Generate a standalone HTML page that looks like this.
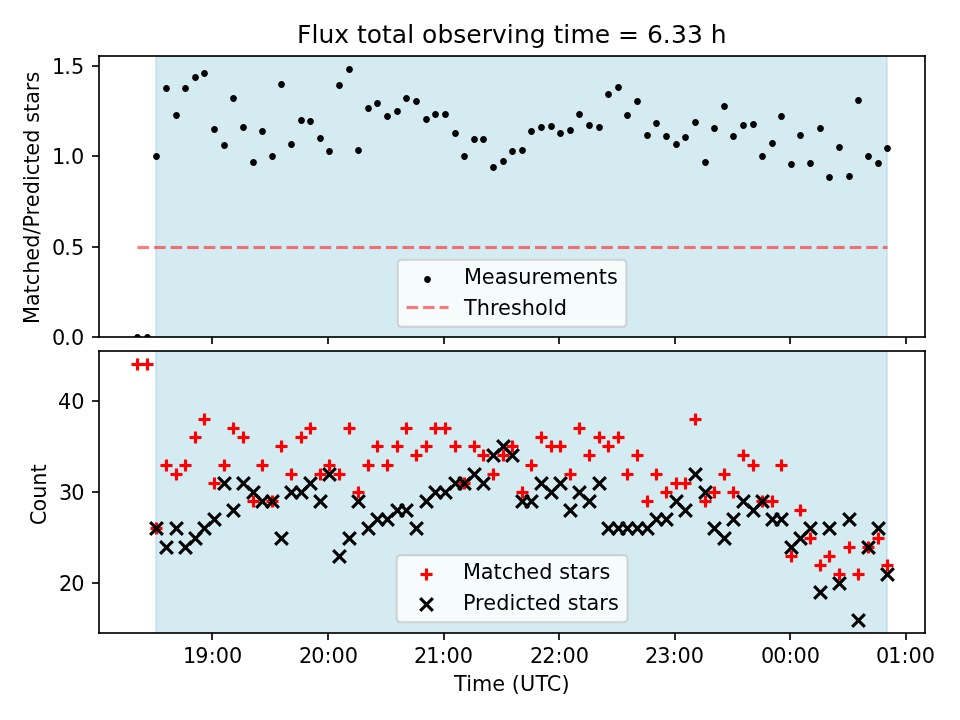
<!DOCTYPE html>
<html><head><meta charset="utf-8"><title>Flux total observing time</title>
<style>html,body{margin:0;padding:0;background:#fff;width:960px;height:720px;overflow:hidden}svg{display:block;will-change:transform}</style>
</head><body>
<svg  width="960" height="720" viewBox="0 0 460.8 345.6"  version="1.1">
<defs>
<style type="text/css">*{stroke-linejoin: round; stroke-linecap: butt}</style>
</defs>
<g id="figure_1">
<g id="patch_1">
<path d="M 0 345.6 L 460.8 345.6 L 460.8 0 L 0 0 z" style="fill: #ffffff"/>
</g>
<g id="axes_1">
<g id="patch_2">
<path d="M 47.52 161.76 L 444 161.76 L 444 26.88 L 47.52 26.88 z" style="fill: #ffffff"/>
</g>
<g id="patch_3">
<path d="M 74.88 161.76 L 425.76 161.76 L 425.76 26.88 L 74.88 26.88 z" clip-path="url(#pa523f5bf2b)" style="fill: #abd8e6; fill-opacity: 0.5; stroke-opacity: 0.5; stroke: #add8e6; stroke-linejoin: miter"/>
</g>
<g id="PathCollection_1">
<defs>
<path id="mfc0736e3bd" d="M 0 1.15158 C 0.3054 1.15158 0.59834 1.03024 0.81429 0.81429 C 1.03024 0.59834 1.15158 0.3054 1.15158 0 C 1.15158 -0.3054 1.03024 -0.59834 0.81429 -0.81429 C 0.59834 -1.03024 0.3054 -1.15158 0 -1.15158 C -0.3054 -1.15158 -0.59834 -1.03024 -0.81429 -0.81429 C -1.03024 -0.59834 -1.15158 -0.3054 -1.15158 0 C -1.15158 0.3054 -1.03024 0.59834 -0.81429 0.81429 C -0.59834 1.03024 -0.3054 1.15158 0 1.15158 z
" style="stroke: #000000"/>
</defs>
<g clip-path="url(#pa523f5bf2b)">
<use href="#mfc0736e3bd" x="66" y="162" style="stroke: #000000; stroke-width: 0.95"/>
<use href="#mfc0736e3bd" x="70.8" y="162" style="stroke: #000000; stroke-width: 0.95"/>
<use href="#mfc0736e3bd" x="75.12" y="75.12" style="stroke: #000000; stroke-width: 0.95"/>
<use href="#mfc0736e3bd" x="79.92" y="42.48" style="stroke: #000000; stroke-width: 0.95"/>
<use href="#mfc0736e3bd" x="84.72" y="55.44" style="stroke: #000000; stroke-width: 0.95"/>
<use href="#mfc0736e3bd" x="89.04" y="42.48" style="stroke: #000000; stroke-width: 0.95"/>
<use href="#mfc0736e3bd" x="93.84" y="37.2" style="stroke: #000000; stroke-width: 0.95"/>
<use href="#mfc0736e3bd" x="98.16" y="35.28" style="stroke: #000000; stroke-width: 0.95"/>
<use href="#mfc0736e3bd" x="102.96" y="62.16" style="stroke: #000000; stroke-width: 0.95"/>
<use href="#mfc0736e3bd" x="107.76" y="69.84" style="stroke: #000000; stroke-width: 0.95"/>
<use href="#mfc0736e3bd" x="112.08" y="47.28" style="stroke: #000000; stroke-width: 0.95"/>
<use href="#mfc0736e3bd" x="116.88" y="61.2" style="stroke: #000000; stroke-width: 0.95"/>
<use href="#mfc0736e3bd" x="121.68" y="78" style="stroke: #000000; stroke-width: 0.95"/>
<use href="#mfc0736e3bd" x="126" y="63.12" style="stroke: #000000; stroke-width: 0.95"/>
<use href="#mfc0736e3bd" x="130.8" y="75.12" style="stroke: #000000; stroke-width: 0.95"/>
<use href="#mfc0736e3bd" x="135.12" y="40.56" style="stroke: #000000; stroke-width: 0.95"/>
<use href="#mfc0736e3bd" x="139.92" y="69.36" style="stroke: #000000; stroke-width: 0.95"/>
<use href="#mfc0736e3bd" x="144.72" y="57.84" style="stroke: #000000; stroke-width: 0.95"/>
<use href="#mfc0736e3bd" x="149.04" y="58.32" style="stroke: #000000; stroke-width: 0.95"/>
<use href="#mfc0736e3bd" x="153.84" y="66.48" style="stroke: #000000; stroke-width: 0.95"/>
<use href="#mfc0736e3bd" x="158.16" y="72.72" style="stroke: #000000; stroke-width: 0.95"/>
<use href="#mfc0736e3bd" x="162.96" y="41.04" style="stroke: #000000; stroke-width: 0.95"/>
<use href="#mfc0736e3bd" x="167.76" y="33.36" style="stroke: #000000; stroke-width: 0.95"/>
<use href="#mfc0736e3bd" x="172.08" y="72.24" style="stroke: #000000; stroke-width: 0.95"/>
<use href="#mfc0736e3bd" x="176.88" y="52.08" style="stroke: #000000; stroke-width: 0.95"/>
<use href="#mfc0736e3bd" x="181.2" y="49.68" style="stroke: #000000; stroke-width: 0.95"/>
<use href="#mfc0736e3bd" x="186" y="55.92" style="stroke: #000000; stroke-width: 0.95"/>
<use href="#mfc0736e3bd" x="190.8" y="53.52" style="stroke: #000000; stroke-width: 0.95"/>
<use href="#mfc0736e3bd" x="195.12" y="47.28" style="stroke: #000000; stroke-width: 0.95"/>
<use href="#mfc0736e3bd" x="199.92" y="48.72" style="stroke: #000000; stroke-width: 0.95"/>
<use href="#mfc0736e3bd" x="204.72" y="57.36" style="stroke: #000000; stroke-width: 0.95"/>
<use href="#mfc0736e3bd" x="209.04" y="54.96" style="stroke: #000000; stroke-width: 0.95"/>
<use href="#mfc0736e3bd" x="213.84" y="54.96" style="stroke: #000000; stroke-width: 0.95"/>
<use href="#mfc0736e3bd" x="218.64" y="64.08" style="stroke: #000000; stroke-width: 0.95"/>
<use href="#mfc0736e3bd" x="222.96" y="75.12" style="stroke: #000000; stroke-width: 0.95"/>
<use href="#mfc0736e3bd" x="227.76" y="66.96" style="stroke: #000000; stroke-width: 0.95"/>
<use href="#mfc0736e3bd" x="232.08" y="66.96" style="stroke: #000000; stroke-width: 0.95"/>
<use href="#mfc0736e3bd" x="236.88" y="80.4" style="stroke: #000000; stroke-width: 0.95"/>
<use href="#mfc0736e3bd" x="241.68" y="77.52" style="stroke: #000000; stroke-width: 0.95"/>
<use href="#mfc0736e3bd" x="246" y="72.72" style="stroke: #000000; stroke-width: 0.95"/>
<use href="#mfc0736e3bd" x="250.8" y="72.24" style="stroke: #000000; stroke-width: 0.95"/>
<use href="#mfc0736e3bd" x="255.12" y="63.12" style="stroke: #000000; stroke-width: 0.95"/>
<use href="#mfc0736e3bd" x="259.92" y="61.2" style="stroke: #000000; stroke-width: 0.95"/>
<use href="#mfc0736e3bd" x="264.72" y="60.72" style="stroke: #000000; stroke-width: 0.95"/>
<use href="#mfc0736e3bd" x="269.04" y="64.08" style="stroke: #000000; stroke-width: 0.95"/>
<use href="#mfc0736e3bd" x="273.84" y="62.64" style="stroke: #000000; stroke-width: 0.95"/>
<use href="#mfc0736e3bd" x="278.16" y="54.96" style="stroke: #000000; stroke-width: 0.95"/>
<use href="#mfc0736e3bd" x="282.96" y="60.24" style="stroke: #000000; stroke-width: 0.95"/>
<use href="#mfc0736e3bd" x="287.76" y="61.2" style="stroke: #000000; stroke-width: 0.95"/>
<use href="#mfc0736e3bd" x="292.08" y="45.36" style="stroke: #000000; stroke-width: 0.95"/>
<use href="#mfc0736e3bd" x="296.88" y="42" style="stroke: #000000; stroke-width: 0.95"/>
<use href="#mfc0736e3bd" x="301.2" y="55.44" style="stroke: #000000; stroke-width: 0.95"/>
<use href="#mfc0736e3bd" x="306" y="48.72" style="stroke: #000000; stroke-width: 0.95"/>
<use href="#mfc0736e3bd" x="310.8" y="65.04" style="stroke: #000000; stroke-width: 0.95"/>
<use href="#mfc0736e3bd" x="315.12" y="59.28" style="stroke: #000000; stroke-width: 0.95"/>
<use href="#mfc0736e3bd" x="319.92" y="65.52" style="stroke: #000000; stroke-width: 0.95"/>
<use href="#mfc0736e3bd" x="324.72" y="69.36" style="stroke: #000000; stroke-width: 0.95"/>
<use href="#mfc0736e3bd" x="329.04" y="66" style="stroke: #000000; stroke-width: 0.95"/>
<use href="#mfc0736e3bd" x="333.84" y="58.8" style="stroke: #000000; stroke-width: 0.95"/>
<use href="#mfc0736e3bd" x="338.64" y="78" style="stroke: #000000; stroke-width: 0.95"/>
<use href="#mfc0736e3bd" x="342.96" y="61.68" style="stroke: #000000; stroke-width: 0.95"/>
<use href="#mfc0736e3bd" x="347.76" y="51.12" style="stroke: #000000; stroke-width: 0.95"/>
<use href="#mfc0736e3bd" x="352.08" y="65.52" style="stroke: #000000; stroke-width: 0.95"/>
<use href="#mfc0736e3bd" x="356.88" y="60.24" style="stroke: #000000; stroke-width: 0.95"/>
<use href="#mfc0736e3bd" x="361.68" y="59.76" style="stroke: #000000; stroke-width: 0.95"/>
<use href="#mfc0736e3bd" x="366" y="75.12" style="stroke: #000000; stroke-width: 0.95"/>
<use href="#mfc0736e3bd" x="370.8" y="68.88" style="stroke: #000000; stroke-width: 0.95"/>
<use href="#mfc0736e3bd" x="375.12" y="55.92" style="stroke: #000000; stroke-width: 0.95"/>
<use href="#mfc0736e3bd" x="379.92" y="78.96" style="stroke: #000000; stroke-width: 0.95"/>
<use href="#mfc0736e3bd" x="384.24" y="65.04" style="stroke: #000000; stroke-width: 0.95"/>
<use href="#mfc0736e3bd" x="389.04" y="78.48" style="stroke: #000000; stroke-width: 0.95"/>
<use href="#mfc0736e3bd" x="393.84" y="61.68" style="stroke: #000000; stroke-width: 0.95"/>
<use href="#mfc0736e3bd" x="398.16" y="85.2" style="stroke: #000000; stroke-width: 0.95"/>
<use href="#mfc0736e3bd" x="402.96" y="70.8" style="stroke: #000000; stroke-width: 0.95"/>
<use href="#mfc0736e3bd" x="407.76" y="84.72" style="stroke: #000000; stroke-width: 0.95"/>
<use href="#mfc0736e3bd" x="412.08" y="48.24" style="stroke: #000000; stroke-width: 0.95"/>
<use href="#mfc0736e3bd" x="416.88" y="75.12" style="stroke: #000000; stroke-width: 0.95"/>
<use href="#mfc0736e3bd" x="421.68" y="78.48" style="stroke: #000000; stroke-width: 0.95"/>
<use href="#mfc0736e3bd" x="426" y="71.28" style="stroke: #000000; stroke-width: 0.95"/>
</g>
</g>
<g id="matplotlib.axis_1">
<g id="xtick_1">
<g id="line2d_1">
<defs>
<path id="m10d7a5b3fd" d="M 0 0 L 0 3.36" style="stroke: #000000; stroke-width: 0.8"/>
</defs>
<g>
<use href="#m10d7a5b3fd" x="101.76" y="161.76" style="stroke: #000000; stroke-width: 0.8"/>
</g>
</g>
</g>
<g id="xtick_2">
<g id="line2d_2">
<g>
<use href="#m10d7a5b3fd" x="157.44" y="161.76" style="stroke: #000000; stroke-width: 0.8"/>
</g>
</g>
</g>
<g id="xtick_3">
<g id="line2d_3">
<g>
<use href="#m10d7a5b3fd" x="213.12" y="161.76" style="stroke: #000000; stroke-width: 0.8"/>
</g>
</g>
</g>
<g id="xtick_4">
<g id="line2d_4">
<g>
<use href="#m10d7a5b3fd" x="268.32" y="161.76" style="stroke: #000000; stroke-width: 0.8"/>
</g>
</g>
</g>
<g id="xtick_5">
<g id="line2d_5">
<g>
<use href="#m10d7a5b3fd" x="324" y="161.76" style="stroke: #000000; stroke-width: 0.8"/>
</g>
</g>
</g>
<g id="xtick_6">
<g id="line2d_6">
<g>
<use href="#m10d7a5b3fd" x="379.2" y="161.76" style="stroke: #000000; stroke-width: 0.8"/>
</g>
</g>
</g>
<g id="xtick_7">
<g id="line2d_7">
<g>
<use href="#m10d7a5b3fd" x="434.88" y="161.76" style="stroke: #000000; stroke-width: 0.8"/>
</g>
</g>
</g>
</g>
<g id="matplotlib.axis_2">
<g id="ytick_1">
<g id="line2d_8">
<defs>
<path id="m0516483914" d="M 0 0 L -3.36 0" style="stroke: #000000; stroke-width: 0.96; stroke-opacity: 0.8333"/>
</defs>
<g>
<use href="#m0516483914" x="47.52" y="161.76" style="stroke: #000000; stroke-width: 0.8"/>
</g>
</g>
<g id="text_1">
<text transform="translate(-0.12 -0.36)" style="font-size: 10px; font-family: 'DejaVu Sans', 'Liberation Sans', sans-serif; text-anchor: start" x="25.06 30.94 34.2325" y="165.724878">0.0</text>
</g>
</g>
<g id="ytick_2">
<g id="line2d_9">
<g>
<use href="#m0516483914" x="47.52" y="118.56" style="stroke: #000000; stroke-width: 0.8"/>
</g>
</g>
<g id="text_2">
<text transform="translate(0.12 -0.12)" style="font-size: 10px; font-family: 'DejaVu Sans', 'Liberation Sans', sans-serif; text-anchor: start" x="24.82 30.7 33.9925" y="122.287015">0.5</text>
</g>
</g>
<g id="ytick_3">
<g id="line2d_10">
<g>
<use href="#m0516483914" x="47.52" y="74.88" style="stroke: #000000; stroke-width: 0.8"/>
</g>
</g>
<g id="text_3">
<text transform="translate(-0.24 -0.36)" style="font-size: 10px; font-family: 'DejaVu Sans', 'Liberation Sans', sans-serif; text-anchor: start" x="25.18 31.06 34.3525" y="78.849152">1.0</text>
</g>
</g>
<g id="ytick_4">
<g id="line2d_11">
<g>
<use href="#m0516483914" x="47.52" y="31.68" style="stroke: #000000; stroke-width: 0.8"/>
</g>
</g>
<g id="text_4">
<text transform="translate(-0.24 -0.12)" style="font-size: 10px; font-family: 'DejaVu Sans', 'Liberation Sans', sans-serif; text-anchor: start" x="25.18 31.06 34.3525" y="35.411289">1.5</text>
</g>
</g>
<g id="text_5">
<text style="font-size: 10px; font-family: 'DejaVu Sans', 'Liberation Sans', sans-serif; text-anchor: start" x="-41.62875 -33.00375 -27.00375 -23.08125 -17.46375 -11.24625 -4.97625 1.36875 4.73625 10.47375 14.35875 20.62875 26.98125 29.75625 35.25375 39.16875 45.32625 51.67125 54.96375 60.17625 64.09875 70.09875 74.33626" y="94.382439" transform="translate(-0.36 0.18) translate(0 0.432) rotate(-90 18.9 94.382439)">Matched/Predicted stars</text>
</g>
</g>
<g id="line2d_12">
<path d="M 66 118.8 L 70.8 118.8 L 75.12 118.8 L 79.92 118.8 L 84.72 118.8 L 89.04 118.8 L 93.84 118.8 L 98.16 118.8 L 102.96 118.8 L 107.76 118.8 L 112.08 118.8 L 116.88 118.8 L 121.68 118.8 L 126 118.8 L 130.8 118.8 L 135.12 118.8 L 139.92 118.8 L 144.72 118.8 L 149.04 118.8 L 153.84 118.8 L 158.16 118.8 L 162.96 118.8 L 167.76 118.8 L 172.08 118.8 L 176.88 118.8 L 181.2 118.8 L 186 118.8 L 190.8 118.8 L 195.12 118.8 L 199.92 118.8 L 204.72 118.8 L 209.04 118.8 L 213.84 118.8 L 218.64 118.8 L 222.96 118.8 L 227.76 118.8 L 232.08 118.8 L 236.88 118.8 L 241.68 118.8 L 246 118.8 L 250.8 118.8 L 255.12 118.8 L 259.92 118.8 L 264.72 118.8 L 269.04 118.8 L 273.84 118.8 L 278.16 118.8 L 282.96 118.8 L 287.76 118.8 L 292.08 118.8 L 296.88 118.8 L 301.2 118.8 L 306 118.8 L 310.8 118.8 L 315.12 118.8 L 319.92 118.8 L 324.72 118.8 L 329.04 118.8 L 333.84 118.8 L 338.64 118.8 L 342.96 118.8 L 347.76 118.8 L 352.08 118.8 L 356.88 118.8 L 361.68 118.8 L 366 118.8 L 370.8 118.8 L 375.12 118.8 L 379.92 118.8 L 384.24 118.8 L 389.04 118.8 L 393.84 118.8 L 398.16 118.8 L 402.96 118.8 L 407.76 118.8 L 412.08 118.8 L 416.88 118.8 L 421.68 118.8 L 426 118.8" clip-path="url(#pa523f5bf2b)" style="fill: none; stroke-dasharray: 5.55,2.4; stroke-dashoffset: 0; stroke: #ff0000; stroke-opacity: 0.03125; stroke-width: 2.4"/><path d="M 66 118.8 L 70.8 118.8 L 75.12 118.8 L 79.92 118.8 L 84.72 118.8 L 89.04 118.8 L 93.84 118.8 L 98.16 118.8 L 102.96 118.8 L 107.76 118.8 L 112.08 118.8 L 116.88 118.8 L 121.68 118.8 L 126 118.8 L 130.8 118.8 L 135.12 118.8 L 139.92 118.8 L 144.72 118.8 L 149.04 118.8 L 153.84 118.8 L 158.16 118.8 L 162.96 118.8 L 167.76 118.8 L 172.08 118.8 L 176.88 118.8 L 181.2 118.8 L 186 118.8 L 190.8 118.8 L 195.12 118.8 L 199.92 118.8 L 204.72 118.8 L 209.04 118.8 L 213.84 118.8 L 218.64 118.8 L 222.96 118.8 L 227.76 118.8 L 232.08 118.8 L 236.88 118.8 L 241.68 118.8 L 246 118.8 L 250.8 118.8 L 255.12 118.8 L 259.92 118.8 L 264.72 118.8 L 269.04 118.8 L 273.84 118.8 L 278.16 118.8 L 282.96 118.8 L 287.76 118.8 L 292.08 118.8 L 296.88 118.8 L 301.2 118.8 L 306 118.8 L 310.8 118.8 L 315.12 118.8 L 319.92 118.8 L 324.72 118.8 L 329.04 118.8 L 333.84 118.8 L 338.64 118.8 L 342.96 118.8 L 347.76 118.8 L 352.08 118.8 L 356.88 118.8 L 361.68 118.8 L 366 118.8 L 370.8 118.8 L 375.12 118.8 L 379.92 118.8 L 384.24 118.8 L 389.04 118.8 L 393.84 118.8 L 398.16 118.8 L 402.96 118.8 L 407.76 118.8 L 412.08 118.8 L 416.88 118.8 L 421.68 118.8 L 426 118.8" clip-path="url(#pa523f5bf2b)" style="fill: none; stroke-dasharray: 5.55,2.4; stroke-dashoffset: 0; stroke: #ff0000; stroke-opacity: 0.5; stroke-width: 1.44"/>
</g>
<g id="patch_4">
<path d="M 47.52 161.76 L 47.52 26.88" style="fill: none; stroke: #000000; stroke-width: 0.8; stroke-linejoin: miter; stroke-linecap: square"/>
</g>
<g id="patch_5">
<path d="M 444 161.76 L 444 26.88" style="fill: none; stroke: #000000; stroke-width: 0.8; stroke-linejoin: miter; stroke-linecap: square"/>
</g>
<g id="patch_6">
<path d="M 47.52 161.76 L 444 161.76" style="fill: none; stroke: #000000; stroke-width: 0.96; stroke-opacity: 0.8333; stroke-linejoin: miter; stroke-linecap: square"/>
</g>
<g id="patch_7">
<path d="M 47.52 26.88 L 444 26.88" style="fill: none; stroke: #000000; stroke-width: 0.96; stroke-opacity: 0.8333; stroke-linejoin: miter; stroke-linecap: square"/>
</g>
<g id="text_6">
<text transform="translate(-0.18 -0.42)" style="font-size: 12px; font-family: 'DejaVu Sans', 'Liberation Sans', sans-serif; text-anchor: start" x="142.72229 149.74228 153.07228 160.67728 167.77979 171.59727 176.17979 183.52229 188.22479 195.70229 199.03229 202.72978 210.19229 217.69229 223.93978 231.44728 236.37479 243.47728 246.93479 254.41978 262.03229 265.84979 270.55228 274.0098 285.70228 292.96228 296.77979 306.82977 310.76728 318.28229 322.21229 329.96729 337.36227 341.29978" y="20.88">Flux total observing time = 6.33 h</text>
</g>
<g id="legend_1">
<g id="patch_8">
<path d="M 192.917291 156.884878 L 298.717291 156.884878 Q 300.717291 156.884878 300.717291 154.884878 L 300.717291 126.684878 Q 300.717291 124.684878 298.717291 124.684878 L 192.917291 124.684878 Q 190.917291 124.684878 190.917291 126.684878 L 190.917291 154.884878 Q 190.917291 156.884878 192.917291 156.884878 z
" style="fill: #ffffff; opacity: 0.8; stroke: #cccccc; stroke-linejoin: miter"/>
</g>
<g id="PathCollection_2">
<g>
<use href="#mfc0736e3bd" x="205.2" y="134.16" style="stroke: #000000; stroke-width: 0.95"/>
</g>
</g>
<g id="text_7">
<text transform="translate(-0.24 -0.24)" style="font-size: 10px; font-family: 'DejaVu Sans', 'Liberation Sans', sans-serif; text-anchor: start" x="222.9173 231.4223 237.69229 243.81979 249.0248 255.36229 259.25479 265.40479 275.1398 281.28979 287.62729 291.5498" y="136.364878">Measurements</text>
</g>
<g id="line2d_13">
<path d="M 195.12 147.6 L 205.2 147.6 L 215.28 147.6" style="fill: none; stroke-dasharray: 5.55,2.4; stroke-dashoffset: 0; stroke: #ff0000; stroke-opacity: 0.03125; stroke-width: 2.4"/><path d="M 195.12 147.6 L 205.2 147.6 L 215.28 147.6" style="fill: none; stroke-dasharray: 5.55,2.4; stroke-dashoffset: 0; stroke: #ff0000; stroke-opacity: 0.5; stroke-width: 1.44"/>
</g>
<g id="text_8">
<text transform="translate(-0.18 0)" style="font-size: 10px; font-family: 'DejaVu Sans', 'Liberation Sans', sans-serif; text-anchor: start" x="222.9173 229.02229 235.35979 239.2448 245.51479 250.6073 256.94479 263.05728 265.95978" y="150.964878">Threshold</text>
</g>
</g>
</g>
<g id="axes_2">
<g id="patch_9">
<path d="M 47.52 303.84 L 444 303.84 L 444 168.48 L 47.52 168.48 z" style="fill: #ffffff"/>
</g>
<g id="patch_10">
<path d="M 74.88 303.84 L 425.76 303.84 L 425.76 168.48 L 74.88 168.48 z" clip-path="url(#pa68977ea98)" style="fill: #abd8e6; fill-opacity: 0.5; stroke-opacity: 0.5; stroke: #add8e6; stroke-linejoin: miter"/>
</g>
<g id="PathCollection_3">
<defs>
<g id="mf34b5040e0" style="stroke: #ff0000; stroke-width: 1.5"><path class="mk" d="M -2.88 0 L 2.88 0" style="stroke-width: 2.4; stroke-opacity: 0.0625"/><path class="mk" d="M -2.88 0 L 2.88 0" style="stroke-width: 1.44"/><path class="mk" d="M 0 2.88 L 0 -2.88"/></g>
</defs>
<g clip-path="url(#pa68977ea98)">
<use href="#mf34b5040e0" x="66" y="174.96" style="fill: #ff0000; stroke: #ff0000; stroke-width: 1.5"/>
<use href="#mf34b5040e0" x="70.8" y="174.96" style="fill: #ff0000; stroke: #ff0000; stroke-width: 1.5"/>
<use href="#mf34b5040e0" x="75.12" y="253.68" style="fill: #ff0000; stroke: #ff0000; stroke-width: 1.5"/>
<use href="#mf34b5040e0" x="79.92" y="223.44" style="fill: #ff0000; stroke: #ff0000; stroke-width: 1.5"/>
<use href="#mf34b5040e0" x="84.72" y="227.76" style="fill: #ff0000; stroke: #ff0000; stroke-width: 1.5"/>
<use href="#mf34b5040e0" x="89.04" y="223.44" style="fill: #ff0000; stroke: #ff0000; stroke-width: 1.5"/>
<use href="#mf34b5040e0" x="93.84" y="210" style="fill: #ff0000; stroke: #ff0000; stroke-width: 1.5"/>
<use href="#mf34b5040e0" x="98.16" y="201.36" style="fill: #ff0000; stroke: #ff0000; stroke-width: 1.5"/>
<use href="#mf34b5040e0" x="102.96" y="232.08" style="fill: #ff0000; stroke: #ff0000; stroke-width: 1.5"/>
<use href="#mf34b5040e0" x="107.76" y="223.44" style="fill: #ff0000; stroke: #ff0000; stroke-width: 1.5"/>
<use href="#mf34b5040e0" x="112.08" y="205.68" style="fill: #ff0000; stroke: #ff0000; stroke-width: 1.5"/>
<use href="#mf34b5040e0" x="116.88" y="210" style="fill: #ff0000; stroke: #ff0000; stroke-width: 1.5"/>
<use href="#mf34b5040e0" x="121.68" y="240.72" style="fill: #ff0000; stroke: #ff0000; stroke-width: 1.5"/>
<use href="#mf34b5040e0" x="126" y="223.44" style="fill: #ff0000; stroke: #ff0000; stroke-width: 1.5"/>
<use href="#mf34b5040e0" x="130.8" y="240.72" style="fill: #ff0000; stroke: #ff0000; stroke-width: 1.5"/>
<use href="#mf34b5040e0" x="135.12" y="214.32" style="fill: #ff0000; stroke: #ff0000; stroke-width: 1.5"/>
<use href="#mf34b5040e0" x="139.92" y="227.76" style="fill: #ff0000; stroke: #ff0000; stroke-width: 1.5"/>
<use href="#mf34b5040e0" x="144.72" y="210" style="fill: #ff0000; stroke: #ff0000; stroke-width: 1.5"/>
<use href="#mf34b5040e0" x="149.04" y="205.68" style="fill: #ff0000; stroke: #ff0000; stroke-width: 1.5"/>
<use href="#mf34b5040e0" x="153.84" y="227.76" style="fill: #ff0000; stroke: #ff0000; stroke-width: 1.5"/>
<use href="#mf34b5040e0" x="158.16" y="223.44" style="fill: #ff0000; stroke: #ff0000; stroke-width: 1.5"/>
<use href="#mf34b5040e0" x="162.96" y="227.76" style="fill: #ff0000; stroke: #ff0000; stroke-width: 1.5"/>
<use href="#mf34b5040e0" x="167.76" y="205.68" style="fill: #ff0000; stroke: #ff0000; stroke-width: 1.5"/>
<use href="#mf34b5040e0" x="172.08" y="236.4" style="fill: #ff0000; stroke: #ff0000; stroke-width: 1.5"/>
<use href="#mf34b5040e0" x="176.88" y="223.44" style="fill: #ff0000; stroke: #ff0000; stroke-width: 1.5"/>
<use href="#mf34b5040e0" x="181.2" y="214.32" style="fill: #ff0000; stroke: #ff0000; stroke-width: 1.5"/>
<use href="#mf34b5040e0" x="186" y="223.44" style="fill: #ff0000; stroke: #ff0000; stroke-width: 1.5"/>
<use href="#mf34b5040e0" x="190.8" y="214.32" style="fill: #ff0000; stroke: #ff0000; stroke-width: 1.5"/>
<use href="#mf34b5040e0" x="195.12" y="205.68" style="fill: #ff0000; stroke: #ff0000; stroke-width: 1.5"/>
<use href="#mf34b5040e0" x="199.92" y="218.64" style="fill: #ff0000; stroke: #ff0000; stroke-width: 1.5"/>
<use href="#mf34b5040e0" x="204.72" y="214.32" style="fill: #ff0000; stroke: #ff0000; stroke-width: 1.5"/>
<use href="#mf34b5040e0" x="209.04" y="205.68" style="fill: #ff0000; stroke: #ff0000; stroke-width: 1.5"/>
<use href="#mf34b5040e0" x="213.84" y="205.68" style="fill: #ff0000; stroke: #ff0000; stroke-width: 1.5"/>
<use href="#mf34b5040e0" x="218.64" y="214.32" style="fill: #ff0000; stroke: #ff0000; stroke-width: 1.5"/>
<use href="#mf34b5040e0" x="222.96" y="232.08" style="fill: #ff0000; stroke: #ff0000; stroke-width: 1.5"/>
<use href="#mf34b5040e0" x="227.76" y="214.32" style="fill: #ff0000; stroke: #ff0000; stroke-width: 1.5"/>
<use href="#mf34b5040e0" x="232.08" y="218.64" style="fill: #ff0000; stroke: #ff0000; stroke-width: 1.5"/>
<use href="#mf34b5040e0" x="236.88" y="227.76" style="fill: #ff0000; stroke: #ff0000; stroke-width: 1.5"/>
<use href="#mf34b5040e0" x="241.68" y="218.64" style="fill: #ff0000; stroke: #ff0000; stroke-width: 1.5"/>
<use href="#mf34b5040e0" x="246" y="214.32" style="fill: #ff0000; stroke: #ff0000; stroke-width: 1.5"/>
<use href="#mf34b5040e0" x="250.8" y="236.4" style="fill: #ff0000; stroke: #ff0000; stroke-width: 1.5"/>
<use href="#mf34b5040e0" x="255.12" y="223.44" style="fill: #ff0000; stroke: #ff0000; stroke-width: 1.5"/>
<use href="#mf34b5040e0" x="259.92" y="210" style="fill: #ff0000; stroke: #ff0000; stroke-width: 1.5"/>
<use href="#mf34b5040e0" x="264.72" y="214.32" style="fill: #ff0000; stroke: #ff0000; stroke-width: 1.5"/>
<use href="#mf34b5040e0" x="269.04" y="214.32" style="fill: #ff0000; stroke: #ff0000; stroke-width: 1.5"/>
<use href="#mf34b5040e0" x="273.84" y="227.76" style="fill: #ff0000; stroke: #ff0000; stroke-width: 1.5"/>
<use href="#mf34b5040e0" x="278.16" y="205.68" style="fill: #ff0000; stroke: #ff0000; stroke-width: 1.5"/>
<use href="#mf34b5040e0" x="282.96" y="218.64" style="fill: #ff0000; stroke: #ff0000; stroke-width: 1.5"/>
<use href="#mf34b5040e0" x="287.76" y="210" style="fill: #ff0000; stroke: #ff0000; stroke-width: 1.5"/>
<use href="#mf34b5040e0" x="292.08" y="214.32" style="fill: #ff0000; stroke: #ff0000; stroke-width: 1.5"/>
<use href="#mf34b5040e0" x="296.88" y="210" style="fill: #ff0000; stroke: #ff0000; stroke-width: 1.5"/>
<use href="#mf34b5040e0" x="301.2" y="227.76" style="fill: #ff0000; stroke: #ff0000; stroke-width: 1.5"/>
<use href="#mf34b5040e0" x="306" y="218.64" style="fill: #ff0000; stroke: #ff0000; stroke-width: 1.5"/>
<use href="#mf34b5040e0" x="310.8" y="240.72" style="fill: #ff0000; stroke: #ff0000; stroke-width: 1.5"/>
<use href="#mf34b5040e0" x="315.12" y="227.76" style="fill: #ff0000; stroke: #ff0000; stroke-width: 1.5"/>
<use href="#mf34b5040e0" x="319.92" y="236.4" style="fill: #ff0000; stroke: #ff0000; stroke-width: 1.5"/>
<use href="#mf34b5040e0" x="324.72" y="232.08" style="fill: #ff0000; stroke: #ff0000; stroke-width: 1.5"/>
<use href="#mf34b5040e0" x="329.04" y="232.08" style="fill: #ff0000; stroke: #ff0000; stroke-width: 1.5"/>
<use href="#mf34b5040e0" x="333.84" y="201.36" style="fill: #ff0000; stroke: #ff0000; stroke-width: 1.5"/>
<use href="#mf34b5040e0" x="338.64" y="240.72" style="fill: #ff0000; stroke: #ff0000; stroke-width: 1.5"/>
<use href="#mf34b5040e0" x="342.96" y="236.4" style="fill: #ff0000; stroke: #ff0000; stroke-width: 1.5"/>
<use href="#mf34b5040e0" x="347.76" y="227.76" style="fill: #ff0000; stroke: #ff0000; stroke-width: 1.5"/>
<use href="#mf34b5040e0" x="352.08" y="236.4" style="fill: #ff0000; stroke: #ff0000; stroke-width: 1.5"/>
<use href="#mf34b5040e0" x="356.88" y="218.64" style="fill: #ff0000; stroke: #ff0000; stroke-width: 1.5"/>
<use href="#mf34b5040e0" x="361.68" y="223.44" style="fill: #ff0000; stroke: #ff0000; stroke-width: 1.5"/>
<use href="#mf34b5040e0" x="366" y="240.72" style="fill: #ff0000; stroke: #ff0000; stroke-width: 1.5"/>
<use href="#mf34b5040e0" x="370.8" y="240.72" style="fill: #ff0000; stroke: #ff0000; stroke-width: 1.5"/>
<use href="#mf34b5040e0" x="375.12" y="223.44" style="fill: #ff0000; stroke: #ff0000; stroke-width: 1.5"/>
<use href="#mf34b5040e0" x="379.92" y="267.12" style="fill: #ff0000; stroke: #ff0000; stroke-width: 1.5"/>
<use href="#mf34b5040e0" x="384.24" y="245.04" style="fill: #ff0000; stroke: #ff0000; stroke-width: 1.5"/>
<use href="#mf34b5040e0" x="389.04" y="258.48" style="fill: #ff0000; stroke: #ff0000; stroke-width: 1.5"/>
<use href="#mf34b5040e0" x="393.84" y="271.44" style="fill: #ff0000; stroke: #ff0000; stroke-width: 1.5"/>
<use href="#mf34b5040e0" x="398.16" y="267.12" style="fill: #ff0000; stroke: #ff0000; stroke-width: 1.5"/>
<use href="#mf34b5040e0" x="402.96" y="275.76" style="fill: #ff0000; stroke: #ff0000; stroke-width: 1.5"/>
<use href="#mf34b5040e0" x="407.76" y="262.8" style="fill: #ff0000; stroke: #ff0000; stroke-width: 1.5"/>
<use href="#mf34b5040e0" x="412.08" y="275.76" style="fill: #ff0000; stroke: #ff0000; stroke-width: 1.5"/>
<use href="#mf34b5040e0" x="416.88" y="262.8" style="fill: #ff0000; stroke: #ff0000; stroke-width: 1.5"/>
<use href="#mf34b5040e0" x="421.68" y="258.48" style="fill: #ff0000; stroke: #ff0000; stroke-width: 1.5"/>
<use href="#mf34b5040e0" x="426" y="271.44" style="fill: #ff0000; stroke: #ff0000; stroke-width: 1.5"/>
</g>
</g>
<g id="PathCollection_4">
<defs>
<g id="m04df7a400f" style="stroke: #000000; stroke-width: 1.5"><path class="mk" d="M -3.04 3.04 L 3.04 -3.04"/><path class="mk" d="M -3.04 -3.04 L 3.04 3.04"/></g>
</defs>
<g clip-path="url(#pa68977ea98)">
<use href="#m04df7a400f" x="75.12" y="253.68" style="stroke: #000000; stroke-width: 1.5"/>
<use href="#m04df7a400f" x="79.92" y="262.8" style="stroke: #000000; stroke-width: 1.5"/>
<use href="#m04df7a400f" x="84.72" y="253.68" style="stroke: #000000; stroke-width: 1.5"/>
<use href="#m04df7a400f" x="89.04" y="262.8" style="stroke: #000000; stroke-width: 1.5"/>
<use href="#m04df7a400f" x="93.84" y="258.48" style="stroke: #000000; stroke-width: 1.5"/>
<use href="#m04df7a400f" x="98.16" y="253.68" style="stroke: #000000; stroke-width: 1.5"/>
<use href="#m04df7a400f" x="102.96" y="249.36" style="stroke: #000000; stroke-width: 1.5"/>
<use href="#m04df7a400f" x="107.76" y="232.08" style="stroke: #000000; stroke-width: 1.5"/>
<use href="#m04df7a400f" x="112.08" y="245.04" style="stroke: #000000; stroke-width: 1.5"/>
<use href="#m04df7a400f" x="116.88" y="232.08" style="stroke: #000000; stroke-width: 1.5"/>
<use href="#m04df7a400f" x="121.68" y="236.4" style="stroke: #000000; stroke-width: 1.5"/>
<use href="#m04df7a400f" x="126" y="240.72" style="stroke: #000000; stroke-width: 1.5"/>
<use href="#m04df7a400f" x="130.8" y="240.72" style="stroke: #000000; stroke-width: 1.5"/>
<use href="#m04df7a400f" x="135.12" y="258.48" style="stroke: #000000; stroke-width: 1.5"/>
<use href="#m04df7a400f" x="139.92" y="236.4" style="stroke: #000000; stroke-width: 1.5"/>
<use href="#m04df7a400f" x="144.72" y="236.4" style="stroke: #000000; stroke-width: 1.5"/>
<use href="#m04df7a400f" x="149.04" y="232.08" style="stroke: #000000; stroke-width: 1.5"/>
<use href="#m04df7a400f" x="153.84" y="240.72" style="stroke: #000000; stroke-width: 1.5"/>
<use href="#m04df7a400f" x="158.16" y="227.76" style="stroke: #000000; stroke-width: 1.5"/>
<use href="#m04df7a400f" x="162.96" y="267.12" style="stroke: #000000; stroke-width: 1.5"/>
<use href="#m04df7a400f" x="167.76" y="258.48" style="stroke: #000000; stroke-width: 1.5"/>
<use href="#m04df7a400f" x="172.08" y="240.72" style="stroke: #000000; stroke-width: 1.5"/>
<use href="#m04df7a400f" x="176.88" y="253.68" style="stroke: #000000; stroke-width: 1.5"/>
<use href="#m04df7a400f" x="181.2" y="249.36" style="stroke: #000000; stroke-width: 1.5"/>
<use href="#m04df7a400f" x="186" y="249.36" style="stroke: #000000; stroke-width: 1.5"/>
<use href="#m04df7a400f" x="190.8" y="245.04" style="stroke: #000000; stroke-width: 1.5"/>
<use href="#m04df7a400f" x="195.12" y="245.04" style="stroke: #000000; stroke-width: 1.5"/>
<use href="#m04df7a400f" x="199.92" y="253.68" style="stroke: #000000; stroke-width: 1.5"/>
<use href="#m04df7a400f" x="204.72" y="240.72" style="stroke: #000000; stroke-width: 1.5"/>
<use href="#m04df7a400f" x="209.04" y="236.4" style="stroke: #000000; stroke-width: 1.5"/>
<use href="#m04df7a400f" x="213.84" y="236.4" style="stroke: #000000; stroke-width: 1.5"/>
<use href="#m04df7a400f" x="218.64" y="232.08" style="stroke: #000000; stroke-width: 1.5"/>
<use href="#m04df7a400f" x="222.96" y="232.08" style="stroke: #000000; stroke-width: 1.5"/>
<use href="#m04df7a400f" x="227.76" y="227.76" style="stroke: #000000; stroke-width: 1.5"/>
<use href="#m04df7a400f" x="232.08" y="232.08" style="stroke: #000000; stroke-width: 1.5"/>
<use href="#m04df7a400f" x="236.88" y="218.64" style="stroke: #000000; stroke-width: 1.5"/>
<use href="#m04df7a400f" x="241.68" y="214.32" style="stroke: #000000; stroke-width: 1.5"/>
<use href="#m04df7a400f" x="246" y="218.64" style="stroke: #000000; stroke-width: 1.5"/>
<use href="#m04df7a400f" x="250.8" y="240.72" style="stroke: #000000; stroke-width: 1.5"/>
<use href="#m04df7a400f" x="255.12" y="240.72" style="stroke: #000000; stroke-width: 1.5"/>
<use href="#m04df7a400f" x="259.92" y="232.08" style="stroke: #000000; stroke-width: 1.5"/>
<use href="#m04df7a400f" x="264.72" y="236.4" style="stroke: #000000; stroke-width: 1.5"/>
<use href="#m04df7a400f" x="269.04" y="232.08" style="stroke: #000000; stroke-width: 1.5"/>
<use href="#m04df7a400f" x="273.84" y="245.04" style="stroke: #000000; stroke-width: 1.5"/>
<use href="#m04df7a400f" x="278.16" y="236.4" style="stroke: #000000; stroke-width: 1.5"/>
<use href="#m04df7a400f" x="282.96" y="240.72" style="stroke: #000000; stroke-width: 1.5"/>
<use href="#m04df7a400f" x="287.76" y="232.08" style="stroke: #000000; stroke-width: 1.5"/>
<use href="#m04df7a400f" x="292.08" y="253.68" style="stroke: #000000; stroke-width: 1.5"/>
<use href="#m04df7a400f" x="296.88" y="253.68" style="stroke: #000000; stroke-width: 1.5"/>
<use href="#m04df7a400f" x="301.2" y="253.68" style="stroke: #000000; stroke-width: 1.5"/>
<use href="#m04df7a400f" x="306" y="253.68" style="stroke: #000000; stroke-width: 1.5"/>
<use href="#m04df7a400f" x="310.8" y="253.68" style="stroke: #000000; stroke-width: 1.5"/>
<use href="#m04df7a400f" x="315.12" y="249.36" style="stroke: #000000; stroke-width: 1.5"/>
<use href="#m04df7a400f" x="319.92" y="249.36" style="stroke: #000000; stroke-width: 1.5"/>
<use href="#m04df7a400f" x="324.72" y="240.72" style="stroke: #000000; stroke-width: 1.5"/>
<use href="#m04df7a400f" x="329.04" y="245.04" style="stroke: #000000; stroke-width: 1.5"/>
<use href="#m04df7a400f" x="333.84" y="227.76" style="stroke: #000000; stroke-width: 1.5"/>
<use href="#m04df7a400f" x="338.64" y="236.4" style="stroke: #000000; stroke-width: 1.5"/>
<use href="#m04df7a400f" x="342.96" y="253.68" style="stroke: #000000; stroke-width: 1.5"/>
<use href="#m04df7a400f" x="347.76" y="258.48" style="stroke: #000000; stroke-width: 1.5"/>
<use href="#m04df7a400f" x="352.08" y="249.36" style="stroke: #000000; stroke-width: 1.5"/>
<use href="#m04df7a400f" x="356.88" y="240.72" style="stroke: #000000; stroke-width: 1.5"/>
<use href="#m04df7a400f" x="361.68" y="245.04" style="stroke: #000000; stroke-width: 1.5"/>
<use href="#m04df7a400f" x="366" y="240.72" style="stroke: #000000; stroke-width: 1.5"/>
<use href="#m04df7a400f" x="370.8" y="249.36" style="stroke: #000000; stroke-width: 1.5"/>
<use href="#m04df7a400f" x="375.12" y="249.36" style="stroke: #000000; stroke-width: 1.5"/>
<use href="#m04df7a400f" x="379.92" y="262.8" style="stroke: #000000; stroke-width: 1.5"/>
<use href="#m04df7a400f" x="384.24" y="258.48" style="stroke: #000000; stroke-width: 1.5"/>
<use href="#m04df7a400f" x="389.04" y="253.68" style="stroke: #000000; stroke-width: 1.5"/>
<use href="#m04df7a400f" x="393.84" y="284.4" style="stroke: #000000; stroke-width: 1.5"/>
<use href="#m04df7a400f" x="398.16" y="253.68" style="stroke: #000000; stroke-width: 1.5"/>
<use href="#m04df7a400f" x="402.96" y="280.08" style="stroke: #000000; stroke-width: 1.5"/>
<use href="#m04df7a400f" x="407.76" y="249.36" style="stroke: #000000; stroke-width: 1.5"/>
<use href="#m04df7a400f" x="412.08" y="297.84" style="stroke: #000000; stroke-width: 1.5"/>
<use href="#m04df7a400f" x="416.88" y="262.8" style="stroke: #000000; stroke-width: 1.5"/>
<use href="#m04df7a400f" x="421.68" y="253.68" style="stroke: #000000; stroke-width: 1.5"/>
<use href="#m04df7a400f" x="426" y="275.76" style="stroke: #000000; stroke-width: 1.5"/>
</g>
</g>
<g id="matplotlib.axis_3">
<g id="xtick_8">
<g id="line2d_14">
<g>
<use href="#m10d7a5b3fd" x="101.76" y="303.84" style="stroke: #000000; stroke-width: 0.8"/>
</g>
</g>
<g id="text_9">
<text transform="translate(-0.12 -0.3)" style="font-size: 10px; font-family: 'DejaVu Sans', 'Liberation Sans', sans-serif; text-anchor: start" x="87.93915 93.81916 100.29916 103.66666 110.02666" y="318.32">19:00</text>
</g>
</g>
<g id="xtick_9">
<g id="line2d_15">
<g>
<use href="#m10d7a5b3fd" x="157.44" y="303.84" style="stroke: #000000; stroke-width: 0.8"/>
</g>
</g>
<g id="text_10">
<text transform="translate(-0.06 -0.3)" style="font-size: 10px; font-family: 'DejaVu Sans', 'Liberation Sans', sans-serif; text-anchor: start" x="143.52639 149.40639 155.76639 159.1339 165.4939" y="318.32">20:00</text>
</g>
</g>
<g id="xtick_10">
<g id="line2d_16">
<g>
<use href="#m10d7a5b3fd" x="213.12" y="303.84" style="stroke: #000000; stroke-width: 0.8"/>
</g>
</g>
<g id="text_11">
<text transform="translate(-0.3 -0.3)" style="font-size: 10px; font-family: 'DejaVu Sans', 'Liberation Sans', sans-serif; text-anchor: start" x="198.99364 204.87364 211.23364 214.60114 220.96114" y="318.32">21:00</text>
</g>
</g>
<g id="xtick_11">
<g id="line2d_17">
<g>
<use href="#m10d7a5b3fd" x="268.32" y="303.84" style="stroke: #000000; stroke-width: 0.8"/>
</g>
</g>
<g id="text_12">
<text transform="translate(-0.12 -0.3)" style="font-size: 10px; font-family: 'DejaVu Sans', 'Liberation Sans', sans-serif; text-anchor: start" x="254.46087 260.34085 266.70087 270.06836 276.42838" y="318.32">22:00</text>
</g>
</g>
<g id="xtick_12">
<g id="line2d_18">
<g>
<use href="#m10d7a5b3fd" x="324" y="303.84" style="stroke: #000000; stroke-width: 0.8"/>
</g>
</g>
<g id="text_13">
<text transform="translate(-0.36 -0.3)" style="font-size: 10px; font-family: 'DejaVu Sans', 'Liberation Sans', sans-serif; text-anchor: start" x="309.92812 315.80811 322.16812 325.53561 331.8956" y="318.32">23:00</text>
</g>
</g>
<g id="xtick_13">
<g id="line2d_19">
<g>
<use href="#m10d7a5b3fd" x="379.2" y="303.84" style="stroke: #000000; stroke-width: 0.8"/>
</g>
</g>
<g id="text_14">
<text transform="translate(-0.12 -0.3)" style="font-size: 10px; font-family: 'DejaVu Sans', 'Liberation Sans', sans-serif; text-anchor: start" x="365.39534 371.27536 377.63535 381.00287 387.36285" y="318.32">00:00</text>
</g>
</g>
<g id="xtick_14">
<g id="line2d_20">
<g>
<use href="#m10d7a5b3fd" x="434.88" y="303.84" style="stroke: #000000; stroke-width: 0.8"/>
</g>
</g>
<g id="text_15">
<text transform="translate(-0.42 -0.3)" style="font-size: 10px; font-family: 'DejaVu Sans', 'Liberation Sans', sans-serif; text-anchor: start" x="420.8626 426.74261 433.1026 436.47009 442.83011" y="318.32">01:00</text>
</g>
</g>
<g id="text_16">
<text transform="translate(-0.18 -0.48)" style="font-size: 10px; font-family: 'DejaVu Sans', 'Liberation Sans', sans-serif; text-anchor: start" x="218.06353 223.98103 226.75603 236.49854 242.64853 245.82103 249.72104 257.16105 262.56104 269.66355" y="331.92">Time (UTC)</text>
</g>
</g>
<g id="matplotlib.axis_4">
<g id="ytick_5">
<g id="line2d_21">
<g>
<use href="#m0516483914" x="47.52" y="279.84" style="stroke: #000000; stroke-width: 0.8"/>
</g>
</g>
<g id="text_17">
<text transform="translate(-0.06 -0.36)" style="font-size: 10px; font-family: 'DejaVu Sans', 'Liberation Sans', sans-serif; text-anchor: start" x="28.3525 34.2325" y="283.810314">20</text>
</g>
</g>
<g id="ytick_6">
<g id="line2d_22">
<g>
<use href="#m0516483914" x="47.52" y="236.16" style="stroke: #000000; stroke-width: 0.8"/>
</g>
</g>
<g id="text_18">
<text transform="translate(-0.06 -0.18)" style="font-size: 10px; font-family: 'DejaVu Sans', 'Liberation Sans', sans-serif; text-anchor: start" x="28.3525 34.2325" y="239.977561">30</text>
</g>
</g>
<g id="ytick_7">
<g id="line2d_23">
<g>
<use href="#m0516483914" x="47.52" y="192.48" style="stroke: #000000; stroke-width: 0.8"/>
</g>
</g>
<g id="text_19">
<text transform="translate(-0.18 -0.06)" style="font-size: 10px; font-family: 'DejaVu Sans', 'Liberation Sans', sans-serif; text-anchor: start" x="27.9925 34.3525" y="196.144808">40</text>
</g>
</g>
<g id="text_20">
<text style="font-size: 10px; font-family: 'DejaVu Sans', 'Liberation Sans', sans-serif; text-anchor: start" x="7.59375 14.20875 20.32875 26.54625 32.99625" y="236.137561" transform="translate(-0.18 0.18) translate(0 1.344) rotate(-90 22.08 236.137561)">Count</text>
</g>
</g>
<g id="patch_11">
<path d="M 47.52 303.84 L 47.52 168.48" style="fill: none; stroke: #000000; stroke-width: 0.8; stroke-linejoin: miter; stroke-linecap: square"/>
</g>
<g id="patch_12">
<path d="M 444 303.84 L 444 168.48" style="fill: none; stroke: #000000; stroke-width: 0.8; stroke-linejoin: miter; stroke-linecap: square"/>
</g>
<g id="patch_13">
<path d="M 47.52 303.84 L 444 303.84" style="fill: none; stroke: #000000; stroke-width: 0.96; stroke-opacity: 0.8333; stroke-linejoin: miter; stroke-linecap: square"/>
</g>
<g id="patch_14">
<path d="M 47.52 168.48 L 444 168.48" style="fill: none; stroke: #000000; stroke-width: 0.96; stroke-opacity: 0.8333; stroke-linejoin: miter; stroke-linecap: square"/>
</g>
<g id="legend_2">
<g id="patch_15">
<path d="M 192.407291 298.64 L 299.227291 298.64 Q 301.227291 298.64 301.227291 296.64 L 301.227291 268.44 Q 301.227291 266.44 299.227291 266.44 L 192.407291 266.44 Q 190.407291 266.44 190.407291 268.44 L 190.407291 296.64 Q 190.407291 298.64 192.407291 298.64 z
" style="fill: #ffffff; opacity: 0.8; stroke: #cccccc; stroke-linejoin: miter"/>
</g>
<g id="PathCollection_5">
<g>
<use href="#mf34b5040e0" x="204.72" y="275.76" style="fill: #ff0000; stroke: #ff0000; stroke-width: 1.5"/>
</g>
</g>
<g id="text_21">
<text transform="translate(-0.18 -0.42)" style="font-size: 10px; font-family: 'DejaVu Sans', 'Liberation Sans', sans-serif; text-anchor: start" x="222.40729 230.91229 237.0323 241.0748 246.5723 252.78979 259.05978 265.40479 268.58481 273.78979 277.59231 283.71978 287.9498" y="278.12">Matched stars</text>
</g>
<g id="PathCollection_6">
<g>
<use href="#m04df7a400f" x="204.72" y="290.16" style="stroke: #000000; stroke-width: 1.5"/>
</g>
</g>
<g id="text_22">
<text transform="translate(-0.12 -0.12)" style="font-size: 10px; font-family: 'DejaVu Sans', 'Liberation Sans', sans-serif; text-anchor: start" x="222.40729 228.13729 232.0298 238.29979 244.64479 247.4198 252.9173 256.83978 262.98981 269.33481 272.6348 277.83979 281.6423 287.76981 291.99979" y="292.72">Predicted stars</text>
</g>
</g>
</g>
</g>
<defs>
<clipPath id="pa523f5bf2b">
<rect x="47.52" y="26.88" width="396.48" height="134.88"/>
</clipPath>
<clipPath id="pa68977ea98">
<rect x="47.52" y="168.48" width="396.48" height="135.36"/>
</clipPath>
</defs>
</svg>
</body></html>
